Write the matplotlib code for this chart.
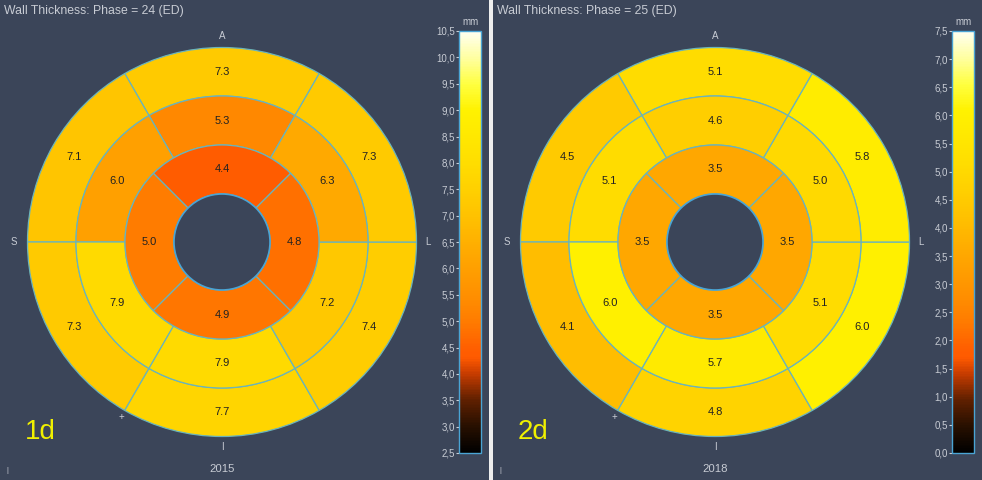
import matplotlib
matplotlib.use("Agg")
import matplotlib.pyplot as plt
import numpy as np
from matplotlib.patches import Wedge, Circle
from matplotlib.colors import LinearSegmentedColormap, Normalize
from matplotlib.cm import ScalarMappable

plt.rcParams['font.family'] = ['Liberation Sans', 'DejaVu Sans']

# AHA segments, counterclockwise starting at anterior (top)
# basal / mid: anterior, anteroseptal, inferoseptal, inferior, inferolateral, anterolateral
# apical: anterior, septal, inferior, lateral
basal_2015 = [7.3, 7.1, 7.3, 7.7, 7.4, 7.3]
mid_2015 = [5.3, 6.0, 7.9, 7.9, 7.2, 6.3]
apical_2015 = [4.4, 5.0, 4.9, 4.8]

basal_2018 = [5.1, 4.5, 4.1, 4.8, 6.0, 5.8]
mid_2018 = [4.6, 5.1, 6.0, 5.7, 5.1, 5.0]
apical_2018 = [3.5, 3.5, 3.5, 3.5]

range_2015 = (2.5, 10.5)
range_2018 = (0.0, 7.5)
ticks_2015 = np.arange(2.5, 10.51, 0.5)
ticks_2018 = np.arange(0.0, 7.51, 0.5)

BG = '#3b4559'
EDGE = '#6ab4bc'
TXT = '#c8ccd4'
W, H = 982, 480

# hot-like scale used by the viewer
cmap = LinearSegmentedColormap.from_list('wt', [
    (0.0, '#000000'), (0.0625, '#281000'), (0.125, '#602000'),
    (0.1875, '#c83c00'), (0.225, '#ff5a00'), (0.25, '#ff6000'),
    (0.3125, '#ff7c00'), (0.375, '#ff9000'), (0.4375, '#ffa000'),
    (0.5, '#ffb000'), (0.5625, '#ffc200'), (0.625, '#ffd000'),
    (0.6875, '#ffdd00'), (0.75, '#ffe800'), (0.8125, '#fff200'),
    (0.875, '#ffff40'), (0.9375, '#ffffa0'), (1.0, '#fffff0')])

fig = plt.figure(figsize=(W / 100, H / 100), dpi=100, facecolor='#eeeeee')


def draw_panel(x0, x1, basal, mid, apical, vrange, ticks, phase, year, tag):
    w = x1 - x0
    ax = fig.add_axes([x0 / W, 0, w / W, 1])
    ax.set_xlim(0, w)
    ax.set_ylim(0, H)
    ax.set_facecolor(BG)
    ax.set_xticks([])
    ax.set_yticks([])
    for s in ax.spines.values():
        s.set_visible(False)

    norm = Normalize(*vrange)
    cx, cy = 222, 238
    radii = [48, 97, 146, 194.5]

    rings = [(basal, radii[2], radii[3], 60, 60),
             (mid, radii[1], radii[2], 60, 60),
             (apical, radii[0], radii[1], 45, 90)]
    for vals, r_in, r_out, start, step in rings:
        for i, v in enumerate(vals):
            t1 = start + step * i
            ax.add_patch(Wedge((cx, cy), r_out, t1, t1 + step, width=r_out - r_in,
                               facecolor=cmap(norm(v)), edgecolor=EDGE, lw=0.9))
            ang = np.deg2rad(t1 + step / 2)
            rm = (r_in + r_out) / 2
            ax.text(cx + rm * np.cos(ang), cy + rm * np.sin(ang), f'{v:.1f}',
                    ha='center', va='center', fontsize=8, color='#222222')
    ax.add_patch(Circle((cx, cy), radii[0], facecolor=BG, edgecolor='#4aa4d4', lw=1.2))

    # orientation labels
    ax.text(cx, cy + 206, 'A', ha='center', va='center', fontsize=7, color=TXT)
    ax.text(cx - 208, cy, 'S', ha='center', va='center', fontsize=7, color=TXT)
    ax.text(cx + 206, cy, 'L', ha='center', va='center', fontsize=7, color=TXT)
    ax.text(cx, cy - 205, 'I', ha='center', va='center', fontsize=7, color=TXT)
    ang = np.deg2rad(240)
    ax.text(cx + 202 * np.cos(ang), cy + 202 * np.sin(ang), '+', ha='center',
            va='center', fontsize=7, color=TXT)

    ax.text(4, H - 11, f'Wall Thickness: Phase = {phase} (ED)', ha='left',
            va='center', fontsize=8.8, color=TXT)
    ax.text(cx, 11, year, ha='center', va='center', fontsize=8.2, color=TXT)
    ax.text(7, 10, '|', ha='center', va='center', fontsize=5, color=TXT)
    ax.text(25, 48, tag, ha='left', va='center', fontsize=20, color='#f0f000')

    # colour bar
    cax = fig.add_axes([(x0 + 459) / W, 27 / H, 22 / W, 422 / H])
    cb = fig.colorbar(ScalarMappable(norm=norm, cmap=cmap), cax=cax)
    cb.set_ticks(ticks)
    cb.set_ticklabels([f'{t:.1f}'.replace('.', ',') for t in ticks])
    cax.yaxis.set_ticks_position('left')
    cax.tick_params(colors=TXT, labelsize=7, length=2.5, width=0.8, pad=0.5)
    cb.outline.set_edgecolor('#4aa4d4')
    cb.outline.set_linewidth(1.0)
    fig.text((x0 + 471) / W, (H - 22) / H, 'mm', ha='center', va='center',
             fontsize=7, color=TXT)


draw_panel(0, 489, basal_2015, mid_2015, apical_2015, range_2015, ticks_2015,
           24, '2015', '1d')
draw_panel(493, 982, basal_2018, mid_2018, apical_2018, range_2018, ticks_2018,
           25, '2018', '2d')

fig.savefig('out.png', dpi=100, facecolor=fig.get_facecolor())
